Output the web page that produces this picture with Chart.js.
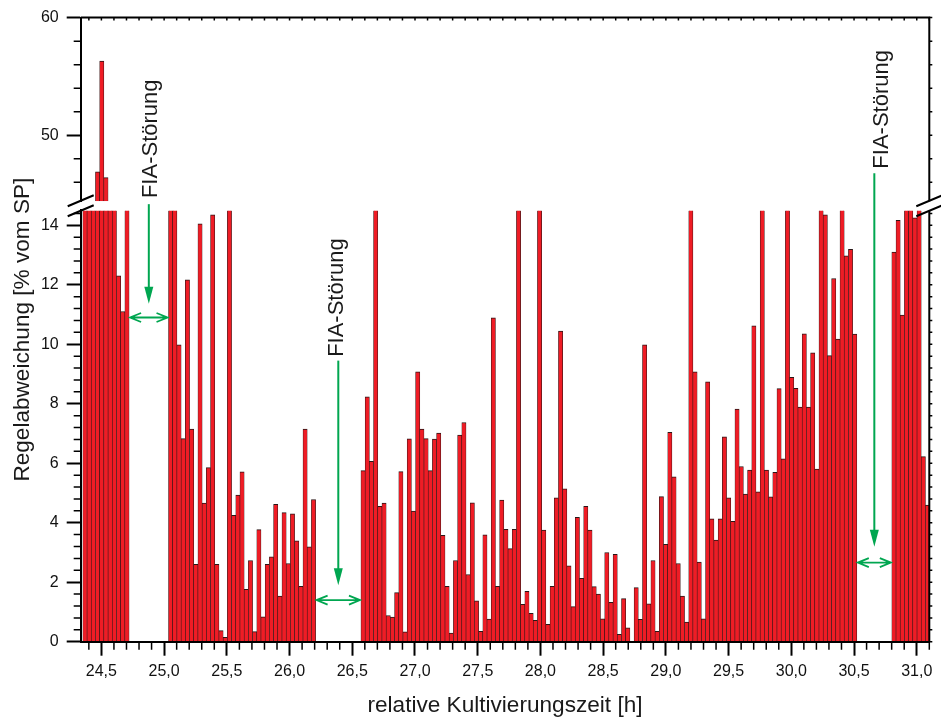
<!DOCTYPE html>
<html>
<head>
<meta charset="utf-8">
<script src="https://cdn.jsdelivr.net/npm/chart.js@4.4.1/dist/chart.umd.min.js"></script>
<style>
  html, body { margin: 0; padding: 0; background: #fff; }
  #wrap { width: 941px; height: 721px; }
</style>
</head>
<body>
<div id="wrap"><canvas id="chart"></canvas></div>
<script>
// sampling interval of the controller log [h]
const sampleStep = 0.0335;
// centre of the first bar of each logged block [h]
const blockStart = [24.369, 25.052, 26.586, 30.818];

// Regelabweichung [% vom SP], one value per sample (20 = bar runs off the lower panel)
const devBlock1 = [20, 20, 20, 46.9, 56.3, 46.4, 20, 20, 12.3, 11.1, 20];
const devBlock2 = [20, 20, 9.98, 6.83, 12.17, 7.15, 2.60, 14.05, 4.66, 5.85, 14.35, 2.60,
  0.37, 0.15, 20, 4.25, 4.93, 5.71, 1.76, 2.73, 0.34, 3.77, 0.84, 2.60, 2.85, 4.62, 1.53,
  4.34, 2.63, 4.30, 3.39, 1.86, 7.15, 3.19, 4.78];
const devBlock3 = [5.75, 8.23, 6.06, 20, 4.55, 4.66, 0.88, 0.83, 1.65, 5.72, 0.33, 6.82,
  4.39, 9.07, 7.15, 6.83, 5.75, 6.81, 7.01, 3.58, 1.86, 0.29, 2.73, 6.95, 7.37, 2.26, 4.67,
  1.37, 0.35, 3.59, 0.76, 10.89, 1.86, 4.76, 3.78, 3.13, 3.78, 20, 1.26, 1.69, 0.95, 0.72, 20,
  3.75, 0.58, 1.86, 4.84, 10.44, 5.14, 2.55, 1.18, 4.18, 2.13, 4.55, 3.75, 1.85, 1.60, 0.77,
  3.00, 1.32, 2.94, 0.25, 1.45, 0.47, 0, 1.82, 0.75, 9.98, 1.27, 2.73, 0.35, 4.88, 3.27,
  7.04, 5.54, 2.63, 1.53, 0.66, 20, 9.07, 2.68, 0.77, 8.74, 4.13, 3.42, 4.13, 6.89, 4.84,
  4.05, 7.82, 5.89, 4.96, 5.77, 10.62, 5.04, 20, 5.77, 4.87, 5.69, 8.51, 6.15,
  20, 8.89, 8.52, 7.89, 10.35, 7.89, 9.71, 5.80, 20, 14.35, 9.62, 12.21, 10.17, 20, 12.97,
  13.19, 10.34];
const devBlock4 = [13.10, 14.17, 10.98, 20, 20, 14.25, 20, 6.22, 4.59];
const blocks = [devBlock1, devBlock2, devBlock3, devBlock4];

// tick labels
const xTicks = [24.5, 25.0, 25.5, 26.0, 26.5, 27.0, 27.5, 28.0, 28.5, 29.0, 29.5, 30.0, 30.5, 31.0];
const yLowTicks = [0, 2, 4, 6, 8, 10, 12, 14];
const yUpTicks = [50, 60];

// broken y axis
const lowMax = 14.5, upMin = 44.4, upMax = 60;

const samples = [];
blockStart.forEach((t0, b) => {
  blocks[b].forEach((v, i) => samples.push({ x: t0 + i * sampleStep, v: v }));
});
const lowData = samples.map(s => ({ x: s.x, y: Math.min(s.v, lowMax), cut: s.v > lowMax }));
const upData = samples.filter(s => s.v > upMin).map(s => ({ x: s.x, y: [upMin, Math.min(s.v, upMax)] }));

// FIA-Störung notes: text centre, arrow line top, arrow tip, double arrow height
const notes = [
  { gap: 0, textAxis: 'yUp', textY: 49.7, dx: 2, topAxis: 'yLow', top: 14.71, tip: 11.36, arrowY: 10.9 },
  { gap: 1, textAxis: 'yLow', textY: 11.57, dx: -1, topAxis: 'yLow', top: 9.45, tip: 1.90, arrowY: 1.40 },
  { gap: 2, textAxis: 'yUp', textY: 52.2, dx: 8, topAxis: 'yUp', top: 46.77, tip: 3.19, arrowY: 2.66 }
];

const FONT = "'Liberation Sans', Arial, Helvetica, sans-serif";
const GREEN = '#00a650';

const barStyle = {
  type: 'bar',
  xAxisID: 'x',
  grouped: false,
  barPercentage: 1,
  categoryPercentage: 1,
  backgroundColor: '#ef1c25',
  borderColor: '#2a1616',
  borderSkipped: 'start',
  clip: 0
};

const frame = {
  id: 'frame',
  afterDraw(chart) {
    const { ctx, chartArea: a, scales } = chart;
    const x = scales.x, yLow = scales.yLow, yUp = scales.yUp;
    ctx.save();
    ctx.strokeStyle = '#000';

    // minor ticks on x (outside) and short ticks on the top border
    ctx.lineWidth = 1.5;
    ctx.beginPath();
    for (let k = 244; k <= 311; k++) {
      const px = x.getPixelForValue(k / 10);
      if (px < a.left - 0.5 || px > a.right + 0.5) continue;
      if (k % 5 !== 0) { ctx.moveTo(px, a.bottom); ctx.lineTo(px, a.bottom + 8); }
      ctx.moveTo(px, a.top); ctx.lineTo(px, a.top + 3);
    }
    // minor ticks lower panel
    for (let k = 1; k <= 36; k++) {
      const v = k * 0.4;
      if (v > lowMax) break;
      const py = yLow.getPixelForValue(v);
      if (k % 5 !== 0) { ctx.moveTo(a.left - 7, py); ctx.lineTo(a.left, py); }
      ctx.moveTo(a.right, py); ctx.lineTo(a.right + 3, py);
    }
    ctx.moveTo(a.right, yLow.getPixelForValue(0)); ctx.lineTo(a.right + 3, yLow.getPixelForValue(0));
    // minor ticks upper panel
    for (let v = 46; v <= 60; v += 2) {
      const py = yUp.getPixelForValue(v);
      if (v % 10 !== 0) { ctx.moveTo(a.left - 7, py); ctx.lineTo(a.left, py); }
      ctx.moveTo(a.right, py); ctx.lineTo(a.right + 3, py);
    }
    ctx.stroke();

    // top border and right axis (broken)
    ctx.lineWidth = 2;
    ctx.beginPath();
    ctx.moveTo(a.left, a.top); ctx.lineTo(a.right + 1, a.top);
    ctx.moveTo(a.right, yUp.top); ctx.lineTo(a.right, yUp.bottom);
    ctx.moveTo(a.right, yLow.top); ctx.lineTo(a.right, yLow.bottom);
    ctx.stroke();

    // break marks
    const mid = (yUp.bottom + yLow.top) / 2;
    ctx.lineWidth = 2;
    ctx.beginPath();
    [a.left, a.right].forEach(bx => {
      [-5, 5].forEach(off => {
        ctx.moveTo(bx - 13, mid + off + 5.5);
        ctx.lineTo(bx + 13, mid + off - 5.5);
      });
    });
    ctx.stroke();

    // FIA-Störung notes
    ctx.strokeStyle = GREEN;
    ctx.fillStyle = GREEN;
    notes.forEach(n => {
      const lastOfBlock = blocks[n.gap].length - 1;
      const gx1 = x.getPixelForValue(blockStart[n.gap] + lastOfBlock * sampleStep + sampleStep / 2);
      const gx2 = x.getPixelForValue(blockStart[n.gap + 1] - sampleStep / 2);
      const lx = (gx1 + gx2) / 2;
      const yTop = scales[n.topAxis].getPixelForValue(n.top);
      const yTip = yLow.getPixelForValue(n.tip);
      const yArr = yLow.getPixelForValue(n.arrowY);

      ctx.lineWidth = 2;
      ctx.beginPath();
      ctx.moveTo(lx, yTop); ctx.lineTo(lx, yTip - 12);
      ctx.stroke();
      ctx.beginPath();
      ctx.moveTo(lx - 4.5, yTip - 17); ctx.lineTo(lx + 4.5, yTip - 17); ctx.lineTo(lx, yTip);
      ctx.closePath();
      ctx.fill();

      ctx.lineWidth = 1.8;
      ctx.beginPath();
      ctx.moveTo(gx1 + 1, yArr); ctx.lineTo(gx2 - 1, yArr);
      ctx.moveTo(gx1 + 12, yArr - 4.5); ctx.lineTo(gx1 + 1, yArr); ctx.lineTo(gx1 + 12, yArr + 4.5);
      ctx.moveTo(gx2 - 12, yArr - 4.5); ctx.lineTo(gx2 - 1, yArr); ctx.lineTo(gx2 - 12, yArr + 4.5);
      ctx.stroke();

      ctx.save();
      ctx.fillStyle = '#1a1a1a';
      ctx.font = '22px ' + FONT;
      ctx.translate(lx + n.dx, scales[n.textAxis].getPixelForValue(n.textY));
      ctx.rotate(-Math.PI / 2);
      ctx.textAlign = 'center';
      ctx.textBaseline = 'middle';
      ctx.fillText('FIA-Störung', 0, 0);
      ctx.restore();
    });

    // axis titles
    ctx.fillStyle = '#1a1a1a';
    ctx.font = '22.6px ' + FONT;
    ctx.textAlign = 'center';
    ctx.textBaseline = 'alphabetic';
    ctx.fillText('relative Kultivierungszeit [h]', (a.left + a.right) / 2, 712);
    ctx.save();
    ctx.translate(29, (a.top + a.bottom) / 2);
    ctx.rotate(-Math.PI / 2);
    ctx.fillText('Regelabweichung [% vom SP]', 0, 0);
    ctx.restore();

    ctx.restore();
  }
};

function yAxis(weight, stackWeight, min, max, ticks) {
  return {
    type: 'linear',
    position: 'left',
    stack: 'v',
    weight: weight,
    stackWeight: stackWeight,
    min: min,
    max: max,
    offset: false,
    afterBuildTicks: s => { s.ticks = ticks.map(v => ({ value: v })); },
    afterFit: s => { s.width = 80.7; },
    grid: { display: true, drawOnChartArea: false, drawTicks: true, tickLength: 14, tickWidth: 2, tickColor: '#000', offset: false },
    border: { display: true, color: '#000', width: 2, z: 1 },
    ticks: { display: true, padding: 8, color: '#111', font: { family: FONT, size: 16 }, callback: v => String(v) }
  };
}

window.addEventListener('load', () => {
  const ctx = document.getElementById('chart').getContext('2d');
  window.myBarChart = new Chart(ctx, {
    data: {
      datasets: [
        Object.assign({}, barStyle, {
          yAxisID: 'yLow',
          data: lowData,
          borderWidth: c => ({ top: (c.raw && c.raw.cut) ? 0 : 1, left: 0.6, right: 0.6, bottom: 0 })
        }),
        Object.assign({}, barStyle, {
          yAxisID: 'yUp',
          data: upData,
          borderWidth: { top: 1, left: 0.6, right: 0.6, bottom: 0 }
        })
      ]
    },
    options: {
      responsive: true,
      maintainAspectRatio: false,
      devicePixelRatio: 1,
      animation: false,
      events: [],
      layout: { padding: { top: 16, right: 11.7, bottom: 0, left: 0 } },
      plugins: {
        legend: { display: false },
        title: { display: false },
        tooltip: { enabled: false }
      },
      scales: {
        x: {
          type: 'linear',
          position: 'bottom',
          min: 24.335,
          max: 31.1,
          offset: false,
          afterBuildTicks: s => { s.ticks = xTicks.map(v => ({ value: v })); },
          afterFit: s => { s.height = 79.3; },
          grid: { display: true, drawOnChartArea: false, drawTicks: true, tickLength: 14, tickWidth: 2, tickColor: '#000', offset: false },
          border: { display: true, color: '#000', width: 2, z: 1 },
          ticks: {
            padding: 6, color: '#111', autoSkip: false, maxRotation: 0,
            font: { family: FONT, size: 16 },
            callback: v => Number(v).toFixed(1).replace('.', ',')
          }
        },
        yUp: yAxis(3, 184, upMin, upMax, yUpTicks),
        yGap: {
          type: 'linear', position: 'left', stack: 'v', weight: 2, stackWeight: 9.3,
          min: 0, max: 1,
          afterFit: s => { s.width = 80.7; },
          grid: { display: false }, border: { display: false }, ticks: { display: false }
        },
        yLow: yAxis(1, 432.4, 0, lowMax, yLowTicks)
      }
    },
    plugins: [frame]
  });
});
</script>
</body>
</html>
